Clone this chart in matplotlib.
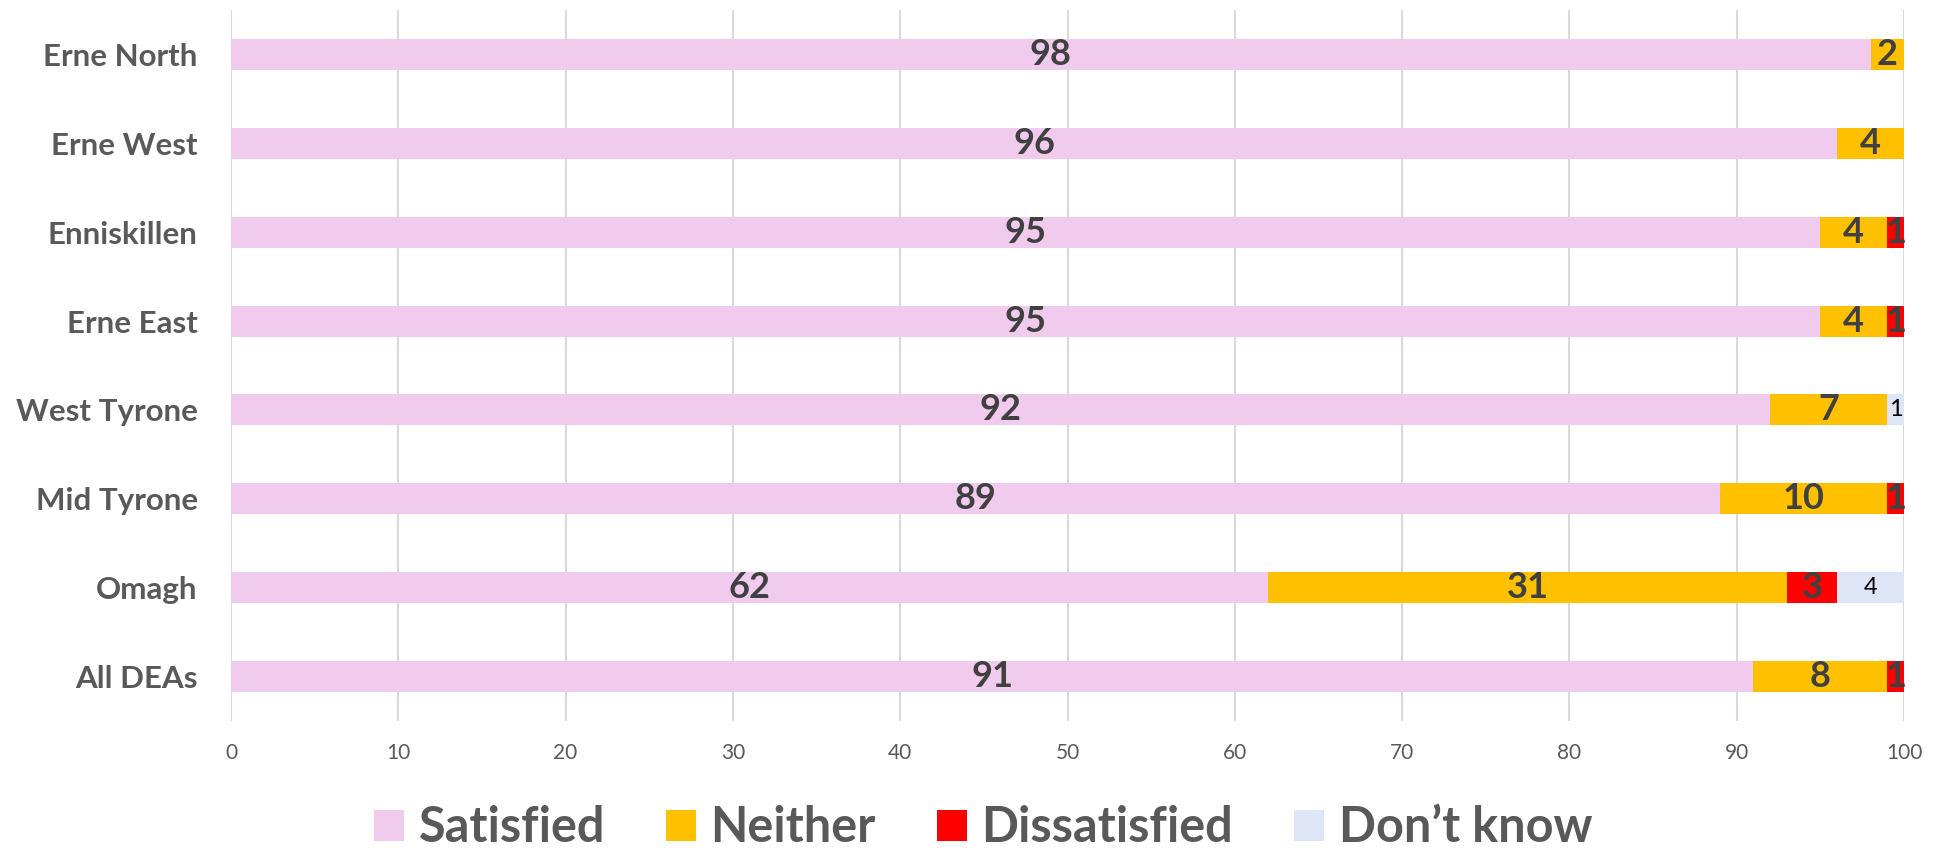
import matplotlib
matplotlib.use("Agg")
import matplotlib.pyplot as plt
from matplotlib.patches import Patch
import numpy as np

categories = ["Erne North", "Erne West", "Enniskillen", "Erne East",
              "West Tyrone", "Mid Tyrone", "Omagh", "All DEAs"]
satisfied = [98, 96, 95, 95, 92, 89, 62, 91]
neither = [2, 4, 4, 4, 7, 10, 31, 8]
dissatisfied = [0, 0, 1, 1, 0, 1, 3, 1]
dont_know = [0, 0, 0, 0, 1, 0, 4, 0.4]
series_names = ["Satisfied", "Neither", "Dissatisfied", "Don\u2019t know"]
x_ticks = [0, 10, 20, 30, 40, 50, 60, 70, 80, 90, 100]

colors = ["#F0CBEE", "#FFC000", "#FF0000", "#DEE5F6"]
FONT = "Lato"
GRAY = "#595959"
LABEL = "#404040"

fig = plt.figure(figsize=(19.44, 8.5), dpi=100)
ax = fig.add_axes([231/1944, 1-721/850, (1904-231)/1944, (721-10)/850])

y = np.arange(len(categories))
left = np.zeros(len(categories))
series = [satisfied, neither, dissatisfied, dont_know]
for i, (vals, col) in enumerate(zip(series, colors)):
    vals = np.array(vals, dtype=float)
    ax.barh(y, vals, left=left, height=0.35, color=col, zorder=3)
    for j, v in enumerate(vals):
        if v >= 0.5:
            cx = left[j] + v / 2
            if i == 3:
                ax.text(cx, y[j], f"{v:.0f}", ha="center", va="center",
                        fontsize=17, color="black", family=FONT, zorder=4)
            else:
                ax.text(cx, y[j], f"{v:.0f}", ha="center", va="center",
                        fontsize=26, fontweight="bold", color=LABEL,
                        family=FONT, zorder=4)
    left += vals

ax.set_xlim(0, 100)
ax.set_ylim(len(categories) - 0.5, -0.5)
ax.set_yticks(y)
ax.set_yticklabels(categories, fontsize=22.5, fontweight="bold", color=GRAY, family=FONT)
ax.set_xticks(x_ticks)
ax.set_xticklabels([str(t) for t in x_ticks], fontsize=15, color=GRAY, family=FONT)
ax.tick_params(axis="y", length=0, pad=24)
ax.tick_params(axis="x", length=0, pad=16)
for s in ax.spines.values():
    s.set_visible(False)
ax.grid(axis="x", color="#D9D9D9", linewidth=1.5, zorder=0)
ax.set_axisbelow(True)

handles = [Patch(facecolor=c, edgecolor="none") for c in colors]
leg = fig.legend(handles, series_names, loc="center", bbox_to_anchor=(983/1944, 1-828/850),
                 ncol=4, frameon=False, handlelength=0.62, handleheight=0.62,
                 handletextpad=0.3, columnspacing=1.25,
                 prop={"family": FONT, "weight": "bold", "size": 35})
for t in leg.get_texts():
    t.set_color(GRAY)

fig.savefig("out.png", dpi=100)
